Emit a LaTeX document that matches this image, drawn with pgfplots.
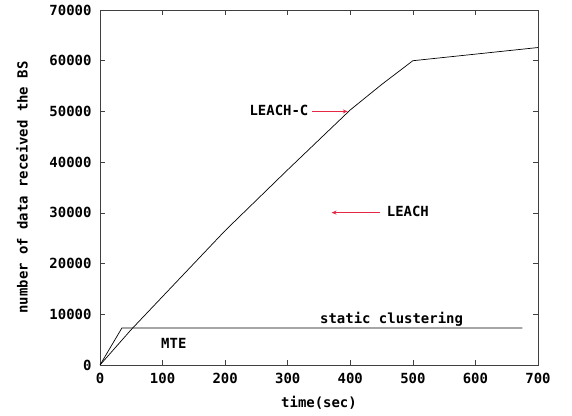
\documentclass[border=0pt]{standalone}
\usepackage{pgfplots}
\pgfplotsset{compat=1.18}
\usepackage{fontspec}
\setmainfont{DejaVu Sans Mono}
\usetikzlibrary{arrows.meta}
\newcommand{\gp}{\fontsize{14}{16}\selectfont\bfseries}
\definecolor{arrred}{RGB}{228,40,70}
\begin{document}
\begin{tikzpicture}
\useasboundingbox (-100bp,-51bp) rectangle (472bp,365bp);
\begin{axis}[
  at={(0,0)}, anchor=south west,
  scale only axis, width=438bp, height=355bp,
  xmin=0, xmax=700, ymin=0, ymax=70000,
  xtick={0,100,...,700}, ytick={0,10000,...,70000},
  scaled y ticks=false, scaled x ticks=false,
  tick align=inside, major tick length=5bp,
  tick style={black!75, line width=0.7bp},
  axis line style={black!75, line width=0.8bp},
  tick label style={font=\gp},
  /pgf/number format/1000 sep={},
  /pgf/number format/assume math mode=true,
  xticklabel shift=5bp, yticklabel shift=5bp,
  xlabel={time(sec)}, ylabel={number of data received the BS},
  label style={font=\gp},
  xlabel style={at={(axis description cs:0.5,-0.107)}, anchor=center},
  ylabel style={at={(axis description cs:-0.178,0.5)}, anchor=center},
]
\addplot[black, line width=0.7bp] coordinates {
  (0,0) (50,7000) (100,13500) (150,20000) (200,26500) (250,32500)
  (300,38500) (350,44400) (400,50300) (450,55300) (500,60000) (700,62600)
};
\addplot[black, line width=0.7bp] coordinates {
  (0,0) (35,7300) (675,7300)
};
\node[anchor=base, inner sep=0, font=\gp] at (axis cs:286,49100) {LEACH-C};
\draw[arrred, line width=0.8bp, -{Stealth[length=5bp,width=4bp]}] (axis cs:339,50000) -- (axis cs:396,50000);
\node[anchor=base, inner sep=0, font=\gp] at (axis cs:492,29250) {LEACH};
\draw[arrred, line width=0.8bp, -{Stealth[length=5bp,width=4bp]}] (axis cs:447,30050) -- (axis cs:370,30050);
\node[anchor=base, inner sep=0, font=\gp] at (axis cs:466,8220) {static clustering};
\node[anchor=base, inner sep=0, font=\gp] at (axis cs:118,3290) {MTE};
\end{axis}
\end{tikzpicture}
\end{document}
